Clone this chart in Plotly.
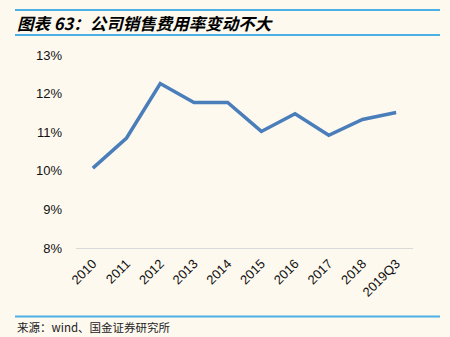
import plotly.graph_objects as go

# 销售费用率 (%)
years = ["2010", "2011", "2012", "2013", "2014", "2015", "2016", "2017", "2018", "2019Q3"]
sales_expense_ratio = [10.07, 10.85, 12.26, 11.77, 11.77, 11.02, 11.48, 10.92, 11.33, 11.51]
y_ticks = [8, 9, 10, 11, 12, 13]
y_tick_labels = ["8%", "9%", "10%", "11%", "12%", "13%"]

W, H = 450, 337
L, R, T, B = 76, 37, 55, 89
BG = "#FDF9EF"
RULE = "#4BB0E6"


def px_x(px):
    return (px - L) / (W - L - R)


def px_y(py):
    return (H - B - py) / (H - T - B)


fig = go.Figure()
fig.add_trace(go.Scatter(
    x=years, y=sales_expense_ratio, mode="lines",
    line=dict(color="#4A7EBB", width=3.5),
    hoverinfo="skip",
))

fig.update_layout(
    width=W, height=H,
    margin=dict(l=L, r=R, t=T, b=B),
    paper_bgcolor=BG, plot_bgcolor=BG,
    showlegend=False,
    font=dict(family="Liberation Sans, Arial, sans-serif", size=13, color="#111111"),
    xaxis=dict(
        type="category", tickangle=-45, showgrid=False,
        range=[-0.5, len(years) - 0.5],
        showline=True, linecolor="#D9D9D9", linewidth=1,
        ticks="", zeroline=False, ticklabelstandoff=2,
    ),
    yaxis=dict(
        range=[8, 13], tickvals=y_ticks, ticktext=y_tick_labels,
        showgrid=False, zeroline=False, showline=False, ticks="",
        ticklabelstandoff=13,
    ),
)

# header and footer rules
for py in (10, 35, 316.5):
    fig.add_shape(type="line", xref="paper", yref="paper",
                  x0=px_x(15), x1=px_x(440), y0=px_y(py), y1=px_y(py),
                  line=dict(color=RULE, width=2))

fig.add_annotation(
    xref="paper", yref="paper", x=px_x(15), y=px_y(23),
    xanchor="left", yanchor="middle", showarrow=False,
    text="<b><i>图表 63：公司销售费用率变动不大</i></b>",
    font=dict(family="Noto Sans CJK SC", size=16.5, color="#000000"),
)
fig.add_annotation(
    xref="paper", yref="paper", x=px_x(15), y=px_y(327),
    xanchor="left", yanchor="middle", showarrow=False,
    text="来源：wind、国金证券研究所",
    font=dict(family="Noto Sans CJK SC", size=11.5, color="#222222"),
)

fig.write_html("out.html")
